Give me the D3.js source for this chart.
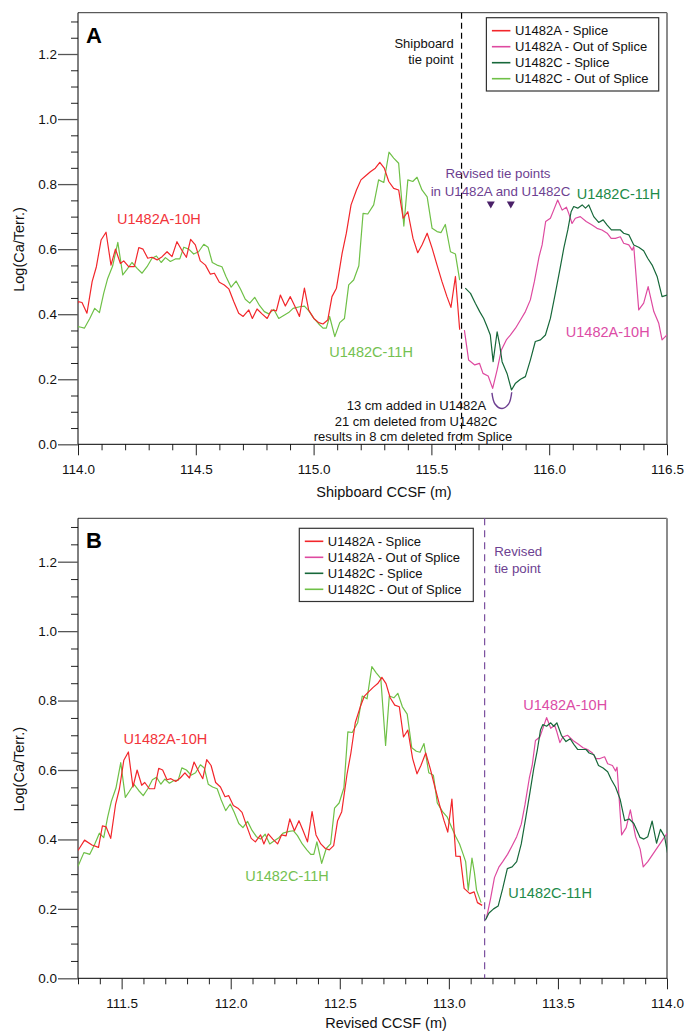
<!DOCTYPE html>
<html><head><meta charset="utf-8">
<script src="https://cdn.jsdelivr.net/npm/d3@7"></script>
<style>
html,body{margin:0;padding:0;background:#fff;}
svg{display:block;font-family:"Liberation Sans",Arial,Helvetica,sans-serif;}
</style></head><body>
<svg id="chart" width="684" height="1034"></svg>
<script>
// ---------------- DATA (shipboard CCSF, m) ----------------
const depthA = [113.888,113.918,113.952,113.982,114.000,114.017,114.038,114.060,114.078,114.098,114.119,114.140,114.159,114.180,114.194,114.215,114.239,114.258,114.276,114.296,114.314,114.336,114.357,114.378,114.399,114.420,114.442,114.460,114.478,114.498,114.519,114.541,114.562,114.579,114.600,114.621,114.640,114.661,114.682,114.701,114.725,114.740,114.760,114.781,114.803,114.821,114.842,114.859,114.880,114.901,114.920,114.940,114.961,114.979,115.001,115.022,115.040,115.060,115.078,115.097,115.121,115.139,115.159,115.182,115.201,115.220,115.241,115.262,115.281,115.300,115.319,115.340,115.361,115.380,115.400,115.422,115.442,115.460,115.482,115.503,115.524,115.545,115.566,115.583,115.602,115.620,115.640,115.658,115.684,115.704,115.719,115.741,115.760,115.779,115.797,115.818,115.835,115.857,115.878,115.899,115.920,115.937,115.957,115.970,115.985,116.005,116.019,116.036,116.055,116.073,116.083,116.097,116.111,116.132,116.157,116.182,116.203,116.224,116.246,116.263,116.281,116.302,116.316,116.338,116.352,116.359,116.380,116.401,116.420,116.444,116.465,116.479,116.500,116.589];
const valueA = [0.368,0.398,0.384,0.377,0.439,0.436,0.403,0.500,0.546,0.628,0.652,0.551,0.600,0.556,0.564,0.546,0.546,0.605,0.600,0.572,0.575,0.567,0.577,0.592,0.577,0.623,0.595,0.575,0.630,0.613,0.564,0.551,0.523,0.526,0.498,0.490,0.478,0.439,0.403,0.393,0.413,0.387,0.416,0.401,0.387,0.413,0.410,0.459,0.425,0.454,0.425,0.393,0.480,0.413,0.387,0.374,0.370,0.382,0.454,0.480,0.587,0.649,0.736,0.782,0.813,0.825,0.838,0.849,0.867,0.849,0.808,0.787,0.782,0.695,0.715,0.633,0.589,0.613,0.649,0.603,0.551,0.500,0.454,0.421,0.516,0.352,0.351,0.259,0.244,0.249,0.218,0.210,0.172,0.229,0.290,0.321,0.336,0.357,0.382,0.408,0.444,0.500,0.577,0.613,0.685,0.695,0.720,0.751,0.720,0.729,0.710,0.679,0.695,0.700,0.685,0.674,0.664,0.659,0.649,0.633,0.633,0.638,0.618,0.613,0.597,0.608,0.413,0.434,0.485,0.408,0.372,0.321,0.336,0.418];
const depthC = [113.973,114.000,114.013,114.027,114.050,114.071,114.091,114.109,114.126,114.147,114.169,114.190,114.208,114.229,114.251,114.272,114.293,114.314,114.333,114.353,114.371,114.392,114.413,114.432,114.449,114.470,114.491,114.512,114.534,114.552,114.570,114.590,114.611,114.628,114.650,114.671,114.689,114.710,114.729,114.750,114.771,114.791,114.810,114.831,114.852,114.873,114.894,114.913,114.941,114.961,114.979,115.001,115.022,115.040,115.054,115.068,115.090,115.111,115.131,115.149,115.170,115.192,115.210,115.230,115.255,115.276,115.298,115.320,115.340,115.361,115.383,115.400,115.421,115.439,115.460,115.482,115.503,115.524,115.541,115.559,115.581,115.602,115.620,115.644,115.666,115.687,115.705,115.722,115.736,115.750,115.762,115.779,115.790,115.800,115.821,115.840,115.857,115.878,115.899,115.920,115.941,115.963,115.984,116.005,116.026,116.045,116.062,116.079,116.093,116.104,116.121,116.140,116.154,116.168,116.189,116.210,116.229,116.246,116.264,116.281,116.302,116.316,116.338,116.359,116.380,116.401,116.418,116.437,116.458,116.479,116.500,116.521,116.549,116.567,116.585,116.605,116.625,116.643,116.662,116.677];
const valueC = [0.323,0.362,0.360,0.357,0.387,0.418,0.405,0.464,0.510,0.548,0.621,0.521,0.538,0.559,0.541,0.526,0.546,0.572,0.579,0.559,0.574,0.562,0.570,0.570,0.606,0.600,0.585,0.592,0.615,0.606,0.559,0.551,0.546,0.516,0.483,0.502,0.478,0.446,0.434,0.452,0.426,0.408,0.401,0.415,0.387,0.396,0.405,0.418,0.423,0.425,0.411,0.387,0.370,0.357,0.357,0.393,0.331,0.374,0.387,0.490,0.505,0.549,0.710,0.708,0.736,0.813,0.805,0.898,0.880,0.864,0.671,0.813,0.808,0.821,0.782,0.761,0.664,0.654,0.651,0.676,0.592,0.585,0.505,0.480,0.464,0.433,0.408,0.387,0.362,0.336,0.254,0.346,0.305,0.254,0.218,0.167,0.188,0.200,0.208,0.259,0.316,0.321,0.336,0.387,0.464,0.536,0.603,0.659,0.715,0.731,0.726,0.736,0.726,0.736,0.700,0.682,0.690,0.674,0.659,0.659,0.659,0.649,0.644,0.613,0.606,0.595,0.572,0.551,0.516,0.454,0.459,0.446,0.406,0.401,0.408,0.453,0.389,0.429,0.408,0.355];

// tie points and depth offsets (shipboard -> revised)
const shipboardTie = 115.628;
const revisedTieA = 115.752;
const revisedTieC = 115.837;
const offsetA = 2.588;
const offsetC = 2.673;
const revisedTie = 113.164;

// annotation arc (shipboard CCSF) linking the two revised tie points
const arcDepth = [115.757, 115.770, 115.800, 115.828, 115.841];
const arcValue = [0.158, 0.124, 0.110, 0.124, 0.160];

const seriesNames = ["U1482A - Splice","U1482A - Out of Splice","U1482C - Splice","U1482C - Out of Splice"];
const seriesColors = ["#f2262b","#de4aa0","#17683a","#6fc047"];
const labelColors = {red:"#f2343a", pink:"#dc4ca6", dark:"#1d8a48", light:"#74c150"};
const purple = "#6d3f91";

const yMajorTicks = [0.0,0.2,0.4,0.6,0.8,1.0,1.2];
const xMajorTicksA = [114.0,114.5,115.0,115.5,116.0,116.5];
const xMajorTicksB = [111.5,112.0,112.5,113.0,113.5,114.0];

// ---------------- helpers ----------------
const svg = d3.select("#chart");
const L = 78, R = 667;
const fmt = d3.format(".1f");

function zipPts(ds, vs, off) { return ds.map((d,i)=>({x:d-off, y:vs[i]})); }
const ptsA = zipPts(depthA, valueA, 0);
const ptsC = zipPts(depthC, valueC, 0);

function drawPanel(cfg) {
  const g = svg.append("g");
  const x = d3.scaleLinear().domain(cfg.xDomain).range([L, R]);
  const y = d3.scaleLinear().domain([0, cfg.yMax]).range([cfg.y0, cfg.yTop]);
  const clipId = "clip" + cfg.letter;
  svg.append("clipPath").attr("id", clipId).append("rect")
     .attr("x", L).attr("y", cfg.yTop).attr("width", R - L).attr("height", cfg.y0 - cfg.yTop);

  // frame top / right
  g.append("line").attr("x1", L).attr("x2", R).attr("y1", cfg.yTop).attr("y2", cfg.yTop)
    .attr("stroke", "#333").attr("stroke-width", 1);
  g.append("line").attr("x1", R).attr("x2", R).attr("y1", cfg.yTop).attr("y2", cfg.y0)
    .attr("stroke", "#8c8c8c").attr("stroke-width", 2);

  // y axis
  const yMinor = d3.range(0, 27).map(i => +(i*0.05).toFixed(2)).filter(v => Math.round(v*100) % 20 !== 0);
  g.append("g").attr("transform", `translate(${L},0)`)
    .call(d3.axisLeft(y).tickValues(yMinor).tickSize(7).tickFormat("").tickSizeOuter(0))
    .call(a => a.select(".domain").remove())
    .call(a => a.selectAll("line").attr("stroke", "#222"));
  const ya = g.append("g").attr("transform", `translate(${L},0)`)
    .call(d3.axisLeft(y).tickValues(yMajorTicks).tickSize(20).tickPadding(1).tickFormat(fmt).tickSizeOuter(0));
  ya.select(".domain").attr("d", `M0,${cfg.yTop}V${cfg.y0}`).attr("stroke", "#000");
  ya.selectAll("line").attr("stroke", "#555").attr("stroke-width", 1.3);
  ya.selectAll("text").attr("font-size", 13.5).attr("fill", "#111").attr("font-family", null);

  // x axis
  const xMinor = d3.range(Math.round(cfg.xDomain[0]*10), Math.round(cfg.xDomain[1]*10)+1)
     .map(v => v/10).filter(v => Math.round(v*10) % 5 !== 0);
  g.append("g").attr("transform", `translate(0,${cfg.y0})`)
    .call(d3.axisBottom(x).tickValues(xMinor).tickSize(6).tickFormat("").tickSizeOuter(0))
    .call(a => a.select(".domain").remove())
    .call(a => a.selectAll("line").attr("stroke", "#222"));
  const xa = g.append("g").attr("transform", `translate(0,${cfg.y0})`)
    .call(d3.axisBottom(x).tickValues(cfg.xTicks).tickSize(11).tickFormat(fmt).tickSizeOuter(0));
  xa.select(".domain").attr("d", `M${L},0H${R}`).attr("stroke", "#000");
  xa.selectAll("line").attr("stroke", "#222");
  xa.selectAll("text").attr("y", 30).attr("dy", null).attr("font-size", 13.5).attr("fill", "#111").attr("font-family", null);

  // titles
  g.append("text").attr("x", cfg.xTitleX).attr("y", cfg.y0 + cfg.xTitleDy).attr("text-anchor", "middle")
    .attr("font-size", 14.5).attr("fill", "#111").text(cfg.xTitle);
  g.append("text").attr("transform", `translate(24,${(cfg.y0 + cfg.yTop)/2 + 21}) rotate(-90)`)
    .attr("text-anchor", "middle").attr("font-size", 14.5).attr("fill", "#111").text("Log(Ca/Terr.)");
  g.append("text").attr("x", 86).attr("y", cfg.yTop + 30).attr("font-size", 22).attr("font-weight", "bold")
    .attr("fill", "#000").text(cfg.letter);

  // series
  const line = d3.line().x(d => x(d.x)).y(d => y(d.y));
  const plot = g.append("g").attr("clip-path", `url(#${clipId})`);
  const draw = (pts, color) => plot.append("path").datum(pts).attr("d", line)
     .attr("fill", "none").attr("stroke", color).attr("stroke-width", 1.2).attr("stroke-linejoin", "round");
  draw(cfg.cOut, seriesColors[3]);
  draw(cfg.aSplice, seriesColors[0]);
  draw(cfg.aOut, seriesColors[1]);
  draw(cfg.cSplice, seriesColors[2]);

  // tie line
  g.append("line").attr("x1", x(cfg.tie)).attr("x2", x(cfg.tie)).attr("y1", cfg.yTop).attr("y2", cfg.y0)
    .attr("stroke", cfg.tieColor).attr("stroke-width", 1.2).attr("stroke-dasharray", cfg.tieDash);

  // legend
  const lg = g.append("g");
  lg.append("rect").attr("x", cfg.leg.x).attr("y", cfg.leg.y).attr("width", cfg.leg.w).attr("height", cfg.leg.h)
    .attr("fill", "#fff").attr("stroke", "#333").attr("stroke-width", 1.2);
  seriesNames.forEach((n, i) => {
    const yy = cfg.leg.y + 13 + i * 16;
    lg.append("line").attr("x1", cfg.leg.x + 5.5).attr("x2", cfg.leg.x + 24).attr("y1", yy).attr("y2", yy)
      .attr("stroke", seriesColors[i]).attr("stroke-width", 1.6);
    lg.append("text").attr("x", cfg.leg.x + 28.5).attr("y", yy).attr("dy", "0.35em")
      .attr("font-size", 13).attr("fill", "#111").text(n);
  });
  return {g, x, y};
}

// ---------- Panel A ----------
const A = drawPanel({
  letter: "A", xDomain: [114.0, 116.5], yMax: 1.327, y0: 444.3, yTop: 12.7,
  xTicks: xMajorTicksA, xTitle: "Shipboard CCSF (m)", xTitleX: 384, xTitleDy: 53,
  tie: shipboardTie, tieColor: "#000", tieDash: "6,4",
  aSplice: ptsA.filter(p => p.x < shipboardTie), aOut: ptsA.filter(p => p.x > shipboardTie),
  cOut: ptsC.filter(p => p.x < shipboardTie), cSplice: ptsC.filter(p => p.x > shipboardTie),
  leg: {x: 486.4, y: 17.7, w: 172.3, h: 73.3}
});
const ta = (g, x, y, txt, color, size, anchor) => g.append("text").attr("x", x).attr("y", y)
   .attr("font-size", size).attr("fill", color).attr("text-anchor", anchor || "start").text(txt);
ta(A.g, 453.7, 47.5, "Shipboard", "#111", 13, "end");
ta(A.g, 453.7, 63.5, "tie point", "#111", 13, "end");
ta(A.g, 498, 177.5, "Revised tie points", purple, 13.3, "middle");
ta(A.g, 500.5, 196, "in U1482A and U1482C", purple, 13.3, "middle");
[revisedTieA, revisedTieC].forEach(d => {
  const cx = A.x(d), cy = 205;
  A.g.append("path").attr("d", `M${cx-4},${cy-3.5}L${cx+4},${cy-3.5}L${cx},${cy+3.5}Z`).attr("fill", "#4a2068");
});
A.g.append("path").datum(arcDepth.map((d, i) => ({x: d, y: arcValue[i]})))
  .attr("d", d3.line().x(d => A.x(d.x)).y(d => A.y(d.y)).curve(d3.curveCatmullRom))
  .attr("fill", "none").attr("stroke", purple).attr("stroke-width", 1.4);
ta(A.g, 576.7, 199, "U1482C-11H", labelColors.dark, 14.5);
ta(A.g, 117, 224, "U1482A-10H", labelColors.red, 14.5);
ta(A.g, 329.3, 357, "U1482C-11H", labelColors.light, 14.5);
ta(A.g, 565.8, 337, "U1482A-10H", labelColors.pink, 14.5);
ta(A.g, 416.5, 410, "13 cm added in U1482A", "#111", 13, "middle");
ta(A.g, 416, 425.5, "21 cm deleted from U1482C", "#111", 13, "middle");
ta(A.g, 413, 441, "results in 8 cm deleted from Splice", "#111", 13, "middle");

// ---------- Panel B ----------
const pAB = zipPts(depthA, valueA, offsetA);
const pCB = zipPts(depthC, valueC, offsetC);
const B = drawPanel({
  letter: "B", xDomain: [111.3, 114.0], yMax: 1.325, y0: 978.3, yTop: 518.3,
  xTicks: xMajorTicksB, xTitle: "Revised CCSF (m)", xTitleX: 386, xTitleDy: 50,
  tie: revisedTie, tieColor: "#7a4f9e", tieDash: "7,5",
  aSplice: pAB.filter(p => p.x + offsetA < revisedTieA), aOut: pAB.filter(p => p.x + offsetA > revisedTieA),
  cOut: pCB.filter(p => p.x + offsetC < revisedTieC), cSplice: pCB.filter(p => p.x + offsetC > revisedTieC),
  leg: {x: 299.3, y: 528.3, w: 174, h: 73.2}
});
ta(B.g, 494.2, 556, "Revised", purple, 13.3);
ta(B.g, 494.2, 572.5, "tie point", purple, 13.3);
ta(B.g, 123.4, 743.5, "U1482A-10H", labelColors.red, 14.5);
ta(B.g, 523.3, 710, "U1482A-10H", labelColors.pink, 14.5);
ta(B.g, 508.3, 898, "U1482C-11H", labelColors.dark, 14.5);
ta(B.g, 245.2, 881, "U1482C-11H", labelColors.light, 14.5);
</script></body></html>
